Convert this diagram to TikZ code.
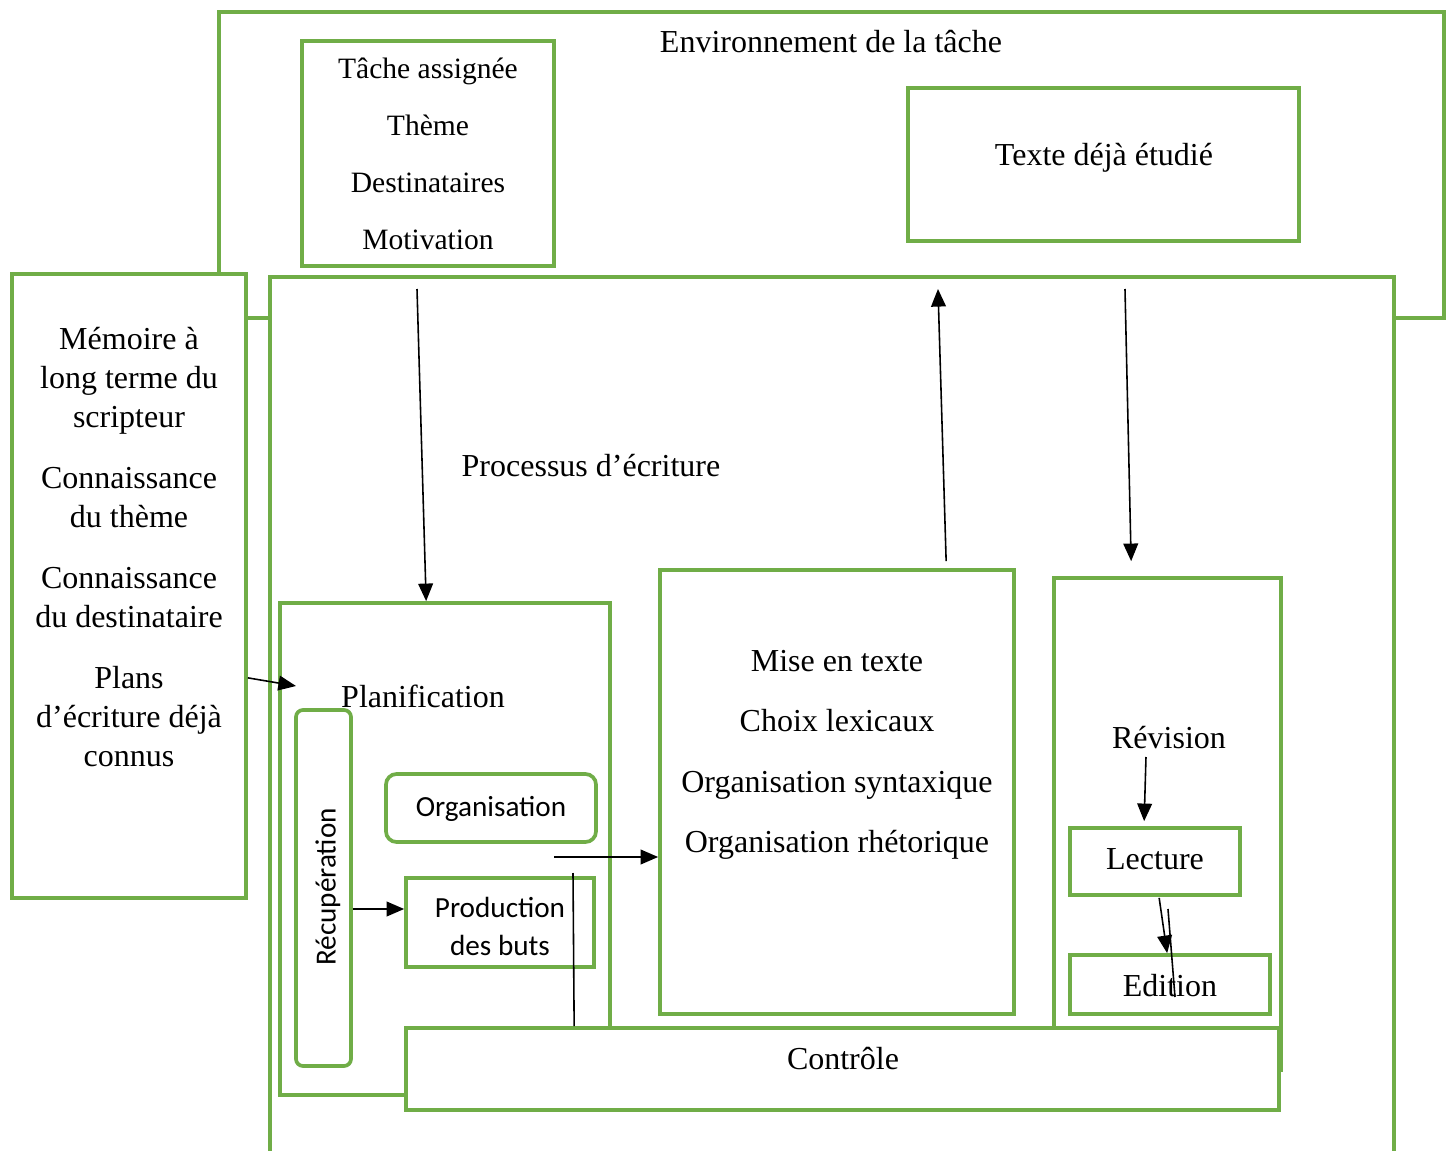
\documentclass[tikz,border=0pt]{standalone}
\usepackage{fontspec}
\setmainfont{Liberation Serif}
\setsansfont{Carlito}
\usetikzlibrary{arrows.meta, calc, positioning, fit}

\definecolor{vert}{RGB}{112,173,71}

\begin{document}
\begin{tikzpicture}[x=0.01cm, y=-0.01cm,
    font=\fontsize{9.1}{11.1}\selectfont,
    boite/.style={draw=vert, line width=1.05pt, fill=white, inner sep=0pt},
    arrondi/.style={boite, rounded corners=2.5pt},
    fleche/.style={-{Triangle[length=5pt, width=4.2pt]}, line width=0.45pt},
    trait/.style={line width=0.45pt},
    etiq/.style={align=center, inner sep=0pt},
    sans/.style={etiq, font=\sffamily\fontsize{8.3}{10.8}\selectfont}]

    \useasboundingbox (0,0) rectangle (1450,1151);

    % environnement de la tache
    \node[boite, fit={(219,12) (1444,318)}] (env) {};
    \node[boite, fit={(302,41) (554,266)}] (tache) {};
    \node[boite, fit={(908,88) (1299,241)}] (texte) {};

    % memoire et processus
    \node[boite, fit={(12,274) (246,898)}] (mem) {};
    \node[boite, fit={(270,277) (1394,1165)}] (proc) {};

    \node[boite, fit={(280,603) (610,1095)}] (plan) {};
    \node[boite, fit={(660,570) (1014,1014)}] (mise) {};
    \node[boite, fit={(1054,578) (1281,1070)}] (rev) {};

    \node[arrondi, rounded corners=2pt, fit={(296,710) (351,1066)}] (recup) {};
    \node[arrondi, rounded corners=3pt, fit={(386,774) (596,842)}] (orga) {};
    \node[boite, fit={(406,878) (594,967)}] (prod) {};

    \node[boite, fit={(1070,828) (1240,895)}] (lect) {};
    \node[boite, fit={(1070,955) (1270,1014)}] (edit) {};

    \node[boite, fit={(406,1028) (1279,1110)}] (ctrl) {};

    % textes
    \node[etiq] (tEnv) at (831,42) {Environnement de la tâche};
    \node[etiq, font=\fontsize{8.4}{16.2}\selectfont] (tTache) at (428,154)
        {Tâche assignée\\Thème\\Destinataires\\Motivation};
    \node[etiq] (tTexte) at (1104,158) {Texte déjà étudié};
    \node[etiq] (tMem) at (129,547)
        {Mémoire à\\long terme du\\scripteur\\[6.2pt]Connaissance\\du thème\\[6.2pt]Connaissance\\du destinataire\\[6.2pt]Plans\\d’écriture déjà\\connus};
    \node[etiq] (tProc) at (591,466) {Processus d’écriture};
    \node[etiq] (tPlan) at (423,696) {Planification};
    \node[sans, rotate=90] (tRecup) at (328,887) {Récupération};
    \node[sans] (tOrga) at (491,809) {Organisation};
    \node[sans] (tProd) at (500,926) {Production\\des buts};
    \node[etiq, font=\fontsize{9.1}{17.2}\selectfont] (tMise) at (837,755)
        {Mise en texte\\Choix lexicaux\\Organisation syntaxique\\Organisation rhétorique};
    \node[etiq] (tRev) at (1169,738) {Révision};
    \node[etiq] (tLect) at (1155,859) {Lecture};
    \node[etiq] (tEdit) at (1170,986) {Edition};
    \node[etiq] (tCtrl) at (843,1059) {Contrôle};

    % fleches
    \coordinate (d1) at (417,289);
    \draw[fleche] (d1) -- ($(plan.north west)+(148,0)$);

    \coordinate (h1) at (938,289);
    \draw[fleche] ($(mise.north west)+(288,-7)$) -- (h1);

    \coordinate (d2) at (1125,289);
    \draw[fleche] (d2) -- ($(rev.north west)+(79,-15)$);

    \coordinate (m1) at (296,686);
    \draw[fleche] ($(mem.south east)+(0,-222)$) -- (m1);

    \path ($(recup.east)+(0,21)$) coordinate (r1);
    \draw[fleche] (r1) -- (r1 -| prod.west);

    \coordinate (p1) at (554,857);
    \draw[fleche] (p1) -- (p1 -| mise.west);

    \coordinate (p2) at (573,873);
    \draw[trait] (p2) -- ($(ctrl.north west)+(170,0)$);

    \coordinate (v1) at (1146,757);
    \draw[fleche] (v1) -- ($(lect.north west)+(76,-5)$);

    \draw[fleche] ($(lect.south west)+(91,1)$) -- ($(edit.north west)+(99,0)$);
    \coordinate (e1) at (1168,909);
    \draw[trait] (e1) -- (1175,997);

\end{tikzpicture}
\end{document}
